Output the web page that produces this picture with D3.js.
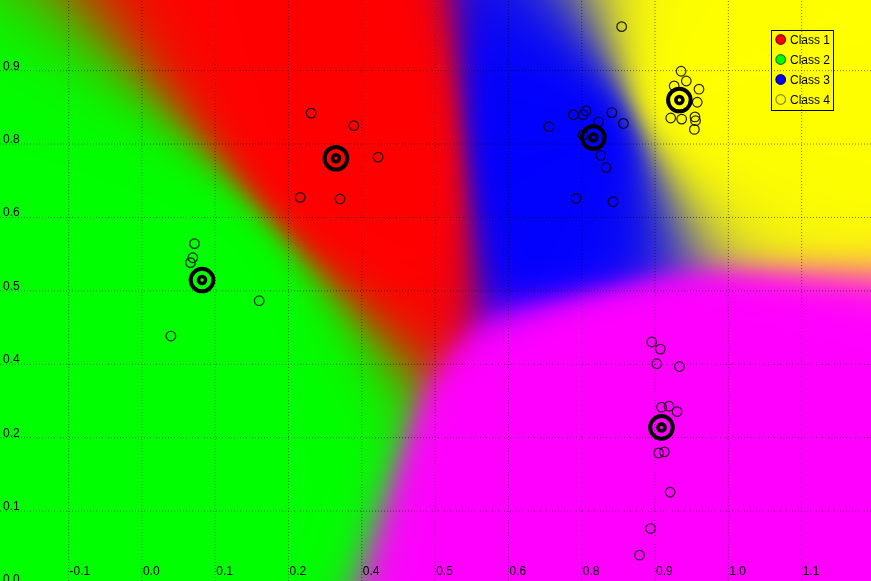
<!DOCTYPE html>
<html>
<head>
<meta charset="utf-8">
<script src="https://cdn.jsdelivr.net/npm/d3@7"></script>
<style>
  html, body { margin: 0; padding: 0; overflow: hidden; background: #fff; }
  .wrapper { position: relative; width: 871px; height: 581px; }
  .wrapper canvas, .wrapper svg { position: absolute; left: 0; top: 0; }
</style>
</head>
<body>
<div class="wrapper">
  <canvas class="map-canvas" width="871" height="581"></canvas>
  <svg class="chart-svg"></svg>
</div>
<script>
const WIDTH = 871
const HEIGHT = 581
const BLUR = 15 // softness of the class borders, px

// data

const classNames = ['Class 1', 'Class 2', 'Class 3', 'Class 4', 'Class 5']
const classColors = ['#ff0000', '#00ff00', '#0000ff', '#ffff00', '#ff00ff']
const legendNames = ['Class 1', 'Class 2', 'Class 3', 'Class 4']

const class1Points = [[0.286, 0.826], [0.360, 0.803], [0.402, 0.745], [0.267, 0.671], [0.336, 0.668]]
const class2Points = [[0.084, 0.586], [0.081, 0.560], [0.077, 0.551], [0.196, 0.481], [0.043, 0.416]]
const class3Points = [[0.698, 0.801], [0.740, 0.823], [0.757, 0.823], [0.762, 0.830], [0.784, 0.810],
  [0.807, 0.827], [0.827, 0.807], [0.757, 0.786], [0.788, 0.748], [0.797, 0.726], [0.745, 0.669],
  [0.809, 0.663], [0.824, 0.985]]
const class4Points = [[0.927, 0.903], [0.936, 0.885], [0.915, 0.876], [0.958, 0.870], [0.955, 0.846],
  [0.909, 0.817], [0.928, 0.815], [0.951, 0.819], [0.952, 0.812], [0.950, 0.796]]
const class5Points = [[0.876, 0.405], [0.891, 0.392], [0.885, 0.365], [0.924, 0.360], [0.893, 0.285],
  [0.906, 0.287], [0.920, 0.277], [0.888, 0.201], [0.898, 0.203], [0.908, 0.129], [0.874, 0.062],
  [0.855, 0.013]]

const centroids = [[0.329, 0.743], [0.097, 0.519], [0.775, 0.781], [0.924, 0.850], [0.893, 0.248]]

const xTickValues = [-0.135, -0.008, 0.119, 0.246, 0.373, 0.5, 0.627, 0.754, 0.881, 1.008, 1.135]
const xTickLabels = ['-0.1', '0.0', '0.1', '0.2', '0.4', '0.5', '0.6', '0.8', '0.9', '1.0', '1.1']
const yTickValues = [-0.04, 0.095, 0.23, 0.365, 0.5, 0.635, 0.77, 0.905]
const yTickLabels = ['0.0', '0.1', '0.2', '0.4', '0.5', '0.6', '0.8', '0.9']

// scales

const x = d3.scaleLinear().domain([-0.253, 1.256]).range([0, WIDTH])
const y = d3.scaleLinear().domain([-0.0345, 1.034]).range([HEIGHT, 0])

const allPoints = [class1Points, class2Points, class3Points, class4Points, class5Points]
  .flatMap((pts, c) => pts.map(p => ({ x: p[0], y: p[1], cls: c })))

renderMap()
renderChart()

/*
** class map: every pixel mixes the class colours, weighted by its distance to each centroid
*/
function renderMap() {
  const ctx = document.querySelector('.map-canvas').getContext('2d')
  const img = ctx.createImageData(WIDTH, HEIGHT)
  const centers = centroids.map(c => [x(c[0]), y(c[1])])
  const rgbs = classColors.map(c => d3.rgb(c))
  const dist = new Array(centers.length)

  for (let py = 0; py < HEIGHT; py++) {
    for (let px = 0; px < WIDTH; px++) {
      let dmin = Infinity
      centers.forEach((c, i) => {
        dist[i] = Math.hypot(px + 0.5 - c[0], py + 0.5 - c[1])
        if (dist[i] < dmin) dmin = dist[i]
      })
      let r = 0, g = 0, b = 0, sum = 0
      dist.forEach((d, i) => {
        const w = Math.exp(-(d - dmin) / BLUR)
        r += w * rgbs[i].r; g += w * rgbs[i].g; b += w * rgbs[i].b
        sum += w
      })
      const k = (py * WIDTH + px) * 4
      img.data[k] = r / sum
      img.data[k + 1] = g / sum
      img.data[k + 2] = b / sum
      img.data[k + 3] = 255
    }
  }
  ctx.putImageData(img, 0, 0)
}

function renderChart() {
  const svg = d3.select('.chart-svg')
    .attr('width', WIDTH)
    .attr('height', HEIGHT)
    .style('font-family', '"Liberation Sans", Arial, sans-serif')

  // grid + tick labels

  svg.append('g')
    .attr('transform', `translate(0,${HEIGHT})`)
    .call(d3.axisTop(x).tickValues(xTickValues).tickSize(HEIGHT).tickFormat((d, i) => xTickLabels[i]))
    .call(styleAxis)
    .call(g => g.selectAll('text')
      .attr('x', 1)
      .attr('y', -6.5)
      .attr('dy', null)
      .attr('text-anchor', 'start'))

  svg.append('g')
    .call(d3.axisRight(y).tickValues(yTickValues).tickSize(WIDTH).tickFormat((d, i) => yTickLabels[i]))
    .call(styleAxis)
    .call(g => g.selectAll('text')
      .attr('x', 3)
      .attr('y', -1)
      .attr('dy', null)
      .attr('text-anchor', 'start'))

  // data points

  svg.append('g')
    .selectAll('circle')
    .data(allPoints)
    .enter()
    .append('circle')
    .attr('cx', d => x(d.x))
    .attr('cy', d => y(d.y))
    .attr('r', 4.8)
    .attr('fill', 'none')
    .attr('stroke', '#000')
    .attr('stroke-opacity', 0.85)
    .attr('stroke-width', 1.2)

  // centroids: thick ring with a small ring inside

  const cents = svg.append('g')
    .selectAll('g')
    .data(centroids)
    .enter()
    .append('g')
    .attr('transform', d => `translate(${x(d[0])},${y(d[1])})`)

  cents.append('circle')
    .attr('r', 11.3)
    .attr('fill', 'none')
    .attr('stroke', '#000')
    .attr('stroke-width', 4)

  cents.append('circle')
    .attr('r', 3.5)
    .attr('fill', 'none')
    .attr('stroke', '#000')
    .attr('stroke-width', 3.6)

  // legend

  const legend = svg.append('g').attr('transform', 'translate(771.5,30.5)')

  legend.append('rect')
    .attr('width', 62)
    .attr('height', 80)
    .attr('fill', 'none')
    .attr('stroke', '#000')
    .attr('stroke-width', 1)

  const rows = legend.selectAll('.legend-row')
    .data(legendNames)
    .enter()
    .append('g')
    .attr('class', 'legend-row')
    .attr('transform', (d, i) => `translate(0,${9 + i * 20})`)

  rows.append('circle')
    .attr('cx', 9.2)
    .attr('r', 4.8)
    .attr('fill', (d, i) => classColors[i])
    .attr('stroke', (d, i) => d3.rgb(classColors[i]).darker(1.8))
    .attr('stroke-width', 1.2)

  rows.append('text')
    .attr('x', 18.5)
    .attr('y', 4.3)
    .attr('font-size', 12)
    .attr('fill', '#000')
    .text(d => d)
}

function styleAxis(g) {
  g.attr('font-family', null).attr('font-size', 12)
  g.select('.domain').remove()
  g.selectAll('line')
    .attr('stroke', '#000')
    .attr('stroke-opacity', 0.5)
    .attr('stroke-dasharray', '1,2')
  g.selectAll('text').attr('fill', '#000')
}
</script>
</body>
</html>
